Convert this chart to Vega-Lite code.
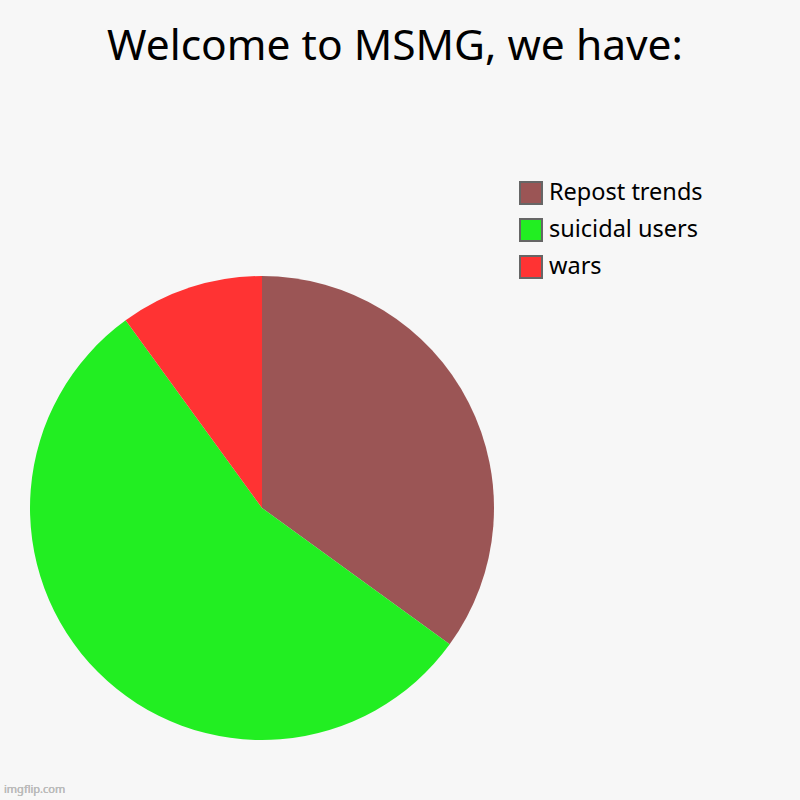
{
  "$schema": "https://vega.github.io/schema/vega-lite/v6.json",
  "width": 464,
  "height": 464,
  "autosize": {"type": "none"},
  "padding": {"left": 30, "top": 276, "right": 306, "bottom": 60},
  "background": "#f7f7f7",
  "view": {"stroke": null},
  "title": {
    "text": "Welcome to MSMG, we have:",
    "font": "Noto Sans",
    "fontSize": 42.5,
    "fontWeight": "normal",
    "color": "#000000",
    "anchor": "middle",
    "frame": "group",
    "dx": 133,
    "offset": 113
  },
  "data": {
    "values": [
      {"category": "Repost trends", "value": 35, "idx": 1},
      {"category": "suicidal users", "value": 55, "idx": 2},
      {"category": "wars", "value": 10, "idx": 3}
    ]
  },
  "layer": [
    {
      "mark": {"type": "arc", "outerRadius": 232},
      "encoding": {
        "theta": {"field": "value", "type": "quantitative", "stack": true},
        "order": {"field": "idx", "type": "quantitative"},
        "color": {
          "field": "category",
          "type": "nominal",
          "sort": ["Repost trends", "suicidal users", "wars"],
          "scale": {"domain": ["Repost trends", "suicidal users", "wars"], "range": ["#9b5555", "#22ee22", "#ff3333"]},
          "legend": {
            "orient": "none",
            "legendX": 489,
            "legendY": -95,
            "title": null,
            "symbolType": "square",
            "symbolSize": 484,
            "symbolStrokeColor": "#666666",
            "symbolStrokeWidth": 2,
            "symbolOpacity": 1,
            "labelFont": "Noto Sans",
            "labelFontSize": 23.5,
            "labelColor": "#000000",
            "rowPadding": 7,
            "labelOffset": 6
          }
        }
      }
    },
    {
      "mark": {"type": "text", "text": "imgflip.com", "font": "Noto Sans", "fontSize": 11, "color": "#bbbbbb", "align": "left", "baseline": "middle"},
      "encoding": {"x": {"value": -26}, "y": {"value": 514}}
    }
  ]
}
